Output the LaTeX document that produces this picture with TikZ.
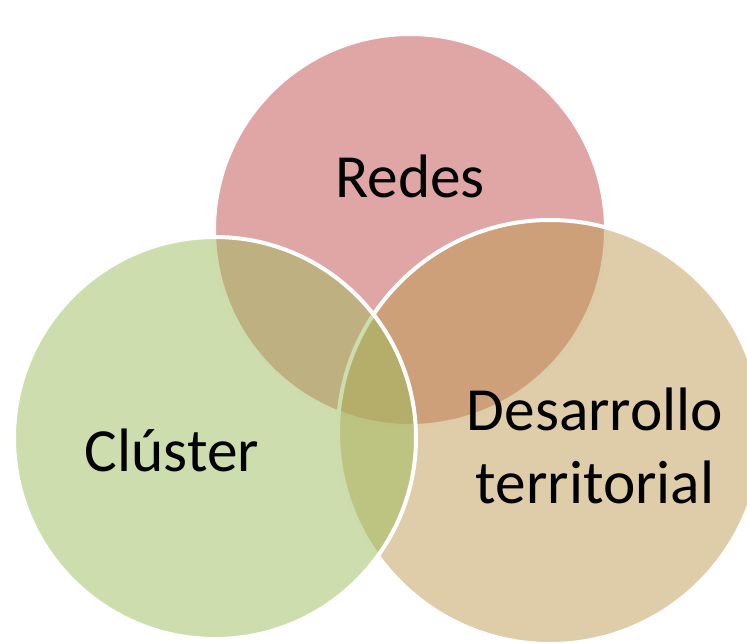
\documentclass[tikz,border=0pt]{standalone}
\usepackage{fontspec}
\setmainfont{Carlito}
\usepackage{tikz}
\usetikzlibrary{calc}
\definecolor{redesred}{RGB}{193,77,77}
\definecolor{clustergreen}{RGB}{157,187,91}
\definecolor{desarrollotan}{RGB}{189,155,81}

\begin{document}
\begin{tikzpicture}[x=0.75pt,y=-0.75pt,
    ring/.style={draw=white, line width=3pt, fill opacity=0.5, draw opacity=1},
    label/.style={font=\fontsize{46}{55}\selectfont, align=center, text=black}]
\useasboundingbox (0,0) rectangle (747,643);
\clip (0,0) rectangle (747,643);

\coordinate (R) at (410,230);
\coordinate (D) at (550,432);
\coordinate (C) at (215,438);

\filldraw[ring, fill=redesred] (R) circle [radius=196];
\filldraw[ring, fill=desarrollotan] (D) circle [radius=212];
\filldraw[ring, fill=clustergreen] (C) circle [radius=201];

\node[label] (redes) at (410,176) {Redes};
\node[label] (cluster) at (172,450) {Clúster};
\node[label] (desarrollo) at (595,446) {Desarrollo\\territorial};
\end{tikzpicture}
\end{document}
